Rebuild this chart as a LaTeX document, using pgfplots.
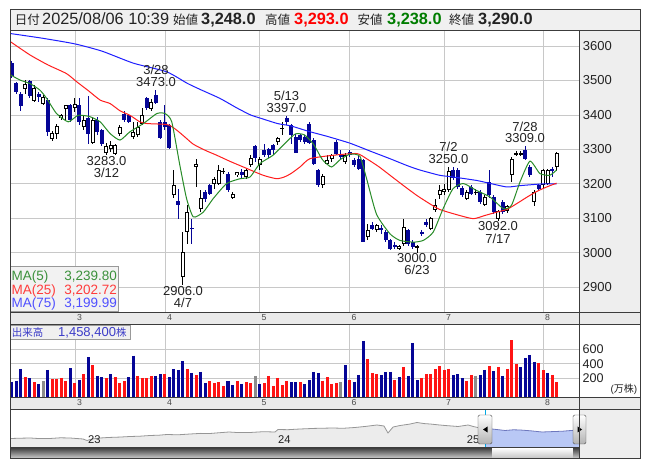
\documentclass[border=0pt]{standalone}
\usepackage{fontspec}
\setmainfont{Liberation Sans}
\newfontfamily\jp{Noto Sans CJK JP}
\usepackage{pgfplots}
\usepackage{pgfplotstable}
\pgfplotsset{compat=1.18}
\definecolor{hdrbg}{RGB}{240,240,240}
\definecolor{panelbg}{RGB}{238,238,238}
\definecolor{stripbg}{RGB}{234,234,234}
\definecolor{gridc}{RGB}{200,200,200}
\definecolor{downblue}{RGB}{5,5,150}
\definecolor{ma5}{RGB}{40,140,40}
\definecolor{ma25}{RGB}{255,30,30}
\definecolor{ma75}{RGB}{30,30,255}
\definecolor{volred}{RGB}{255,20,20}
\definecolor{volblue}{RGB}{5,5,150}
\definecolor{volgray}{RGB}{140,140,140}
\definecolor{framec}{RGB}{60,60,60}
\definecolor{navfill}{RGB}{236,236,236}
\definecolor{navline}{RGB}{150,150,150}
\definecolor{selfill}{RGB}{185,200,245}
\definecolor{selline}{RGB}{110,120,190}
\definecolor{cyanl}{RGB}{0,170,230}
\definecolor{txt}{RGB}{35,35,35}
\definecolor{lowgreen}{RGB}{0,125,0}
\definecolor{leg5}{RGB}{60,145,60}
\definecolor{leg25}{RGB}{255,60,60}
\definecolor{leg75}{RGB}{80,80,255}
\definecolor{volbox}{RGB}{60,60,200}
\newcommand{\fs}[1]{\fontsize{#1bp}{#1bp}\selectfont}
\pgfplotsset{
  bars/.style 2 args={draw=none, mark=none, forget plot, error bars/.cd, y dir=both, y explicit, error mark=none, error bar style={draw=#1, line width=#2}},
  vbars/.style={draw=none, mark=none, forget plot, error bars/.cd, y dir=minus, y explicit, error mark=none, error bar style={draw=#1, line width=3bp}},
}
\begin{document}
\pgfplotstableread{
i o h l c
3 3474 3501 3462 3489
5 3440 3486 3437 3479
7 3433 3457 3428 3453
9 3329 3352 3324 3349
10 3346 3375 3330 3368
11 3391 3404 3385 3399
12 3417 3430 3385 3428
14 3419 3448 3409 3433
16 3366 3400 3356 3385
18 3320 3395 3317 3385
21 3290 3318 3283 3310
22 3300 3325 3292 3312
23 3288 3316 3285 3312
24 3346 3370 3340 3365
27 3336 3380 3330 3351
28 3341 3380 3336 3365
29 3375 3419 3370 3399
31 3417 3445 3412 3438
36 3167 3240 3159 3196
38 2929 3060 2906 3002
39 3060 3138 3026 3118
41 3249 3273 3191 3258
42 3128 3181 3118 3159
45 3201 3220 3186 3213
46 3201 3254 3196 3240
47 3236 3245 3230 3238
49 3159 3176 3155 3172
50 3225 3235 3220 3233
52 3220 3245 3215 3240
53 3256 3283 3249 3274
55 3254 3278 3240 3273
59 3322 3336 3314 3332
60 3361 3380 3341 3363
69 3196 3228 3189 3223
70 3259 3283 3254 3269
71 3271 3288 3264 3283
74 3262 3290 3259 3283
79 3046 3085 3036 3065
81 3065 3085 3060 3082
86 3012 3022 3008 3019
87 3026 3099 3020 3075
90 3015 3022 3000 3019
93 3070 3104 3065 3101
94 3123 3157 3118 3139
95 3167 3196 3157 3181
96 3177 3201 3167 3186
97 3181 3250 3177 3236
101 3157 3181 3152 3176
103 3174 3185 3168 3177
105 3139 3167 3135 3162
108 3099 3123 3092 3120
110 3120 3140 3115 3136
111 3225 3278 3206 3273
112 3285 3295 3280 3290
113 3286 3296 3282 3290
116 3147 3181 3137 3176
118 3196 3244 3188 3239
119 3201 3244 3196 3239
121 3248 3293 3238 3290
}\candup
\pgfplotstableread{
i o h l c
0 3552 3556 3508 3513
1 3492 3496 3462 3467
2 3462 3466 3411 3426
4 3498 3502 3448 3456
6 3462 3467 3438 3453
8 3443 3448 3340 3351
13 3428 3431 3380 3385
15 3428 3450 3370 3380
17 3390 3456 3317 3346
19 3385 3395 3341 3351
20 3356 3360 3310 3317
25 3404 3410 3380 3385
26 3399 3404 3376 3380
30 3450 3453 3414 3419
32 3457 3473 3432 3436
33 3380 3386 3330 3334
34 3380 3428 3356 3364
35 3370 3374 3300 3305
37 3149 3186 3097 3140
40 3072 3099 3026 3070
43 3176 3181 3147 3157
44 3196 3201 3167 3172
48 3230 3235 3176 3181
51 3233 3243 3215 3225
54 3310 3314 3264 3274
56 3298 3317 3279 3283
57 3300 3305 3275 3283
58 3312 3317 3283 3298
61 3392 3397 3372 3380
62 3370 3375 3316 3341
63 3336 3346 3290 3291
64 3341 3346 3322 3327
65 3336 3341 3316 3322
66 3375 3380 3315 3320
67 3327 3332 3255 3259
68 3239 3243 3191 3196
72 3322 3327 3285 3288
73 3288 3298 3273 3278
75 3293 3298 3278 3283
76 3269 3275 3250 3254
77 3273 3280 3240 3244
78 3269 3272 3031 3031
80 3082 3090 3065 3070
82 3071 3080 3055 3070
83 3060 3065 3031 3036
84 3036 3040 3008 3012
85 3022 3030 3012 3020
88 3065 3070 3020 3026
89 3031 3036 3012 3017
91 3060 3065 3050 3055
92 3089 3099 3075 3080
98 3240 3248 3210 3217
99 3240 3245 3186 3191
100 3188 3193 3162 3167
102 3191 3196 3167 3172
104 3176 3181 3142 3147
106 3205 3239 3160 3167
107 3162 3167 3113 3118
109 3147 3152 3113 3118
114 3298 3309 3270 3273
115 3249 3254 3220 3225
117 3196 3200 3182 3186
120 3244 3248 3220 3239
}\canddn
\pgfplotstableread{
i v
3 214
5 150
9 191
10 191
11 205
12 164
14 137
16 259
18 382
21 205
23 218
24 137
25 164
28 232
29 205
30 200
31 232
34 259
39 328
41 246
44 164
45 137
46 150
47 96
50 164
52 150
53 137
56 137
57 232
58 96
59 205
60 109
61 164
64 150
69 168
70 214
71 123
72 137
75 177
79 464
80 273
81 259
85 177
87 355
91 205
92 259
93 259
94 328
95 369
96 314
97 328
101 164
102 246
106 369
108 355
110 328
111 723
112 396
117 410
118 314
120 246
121 146
}\volr
\pgfplotstableread{
i v
0 155
1 168
2 328
4 200
6 123
8 314
13 341
15 177
17 491
19 232
20 218
22 259
26 218
27 510
32 232
33 259
35 218
36 328
37 314
38 437
40 273
42 287
43 137
48 164
49 109
51 123
55 123
62 150
63 150
65 123
66 177
67 287
68 273
74 382
76 155
77 246
78 710
82 246
83 287
84 287
86 218
88 232
89 683
90 177
98 246
99 259
100 200
104 246
105 314
107 300
109 232
113 355
114 478
115 519
116 423
119 273
}\volb
\pgfplotstableread{
i v
7 164
54 232
73 150
103 232
}\volg
\begin{tikzpicture}[x=1bp,y=1bp]
\useasboundingbox (0,0) rectangle (653,470);
\fill[white] (0,0) rectangle (653,470);
\fill[hdrbg] (10,439) rectangle (640,460);
\fill[panelbg] (579,157.3) rectangle (640,439);
\fill[stripbg] (10,145) rectangle (640,157.3);
\fill[stripbg] (10,60) rectangle (640,72.7);
\fill[panelbg] (579,11) rectangle (640,60);

% header
\node[anchor=base west, inner sep=0, font=\jp\fs{12.5}, text=txt] at (14.6,445) {日付};
\node[anchor=base west, inner sep=0, font=\fs{16.3}, text=txt] at (42,445) {2025/08/06 10:39};
\node[anchor=base west, inner sep=0, font=\jp\fs{12.5}, text=txt] at (173,445) {始値};
\node[anchor=base west, inner sep=0, font=\bfseries\fs{16.3}, text=txt] at (201,445) {3,248.0};
\node[anchor=base west, inner sep=0, font=\jp\fs{12.5}, text=txt] at (265,445) {高値};
\node[anchor=base west, inner sep=0, font=\bfseries\fs{16.3}, text=red] at (294,445) {3,293.0};
\node[anchor=base west, inner sep=0, font=\jp\fs{12.5}, text=txt] at (357.5,445) {安値};
\node[anchor=base west, inner sep=0, font=\bfseries\fs{16.3}, text=lowgreen] at (387,445) {3,238.0};
\node[anchor=base west, inner sep=0, font=\jp\fs{12.5}, text=txt] at (449,445) {終値};
\node[anchor=base west, inner sep=0, font=\bfseries\fs{16.3}, text=txt] at (478,445) {3,290.0};

% price axis
\begin{axis}[at={(11bp,157.3bp)}, anchor=south west, scale only axis,
  width=568bp, height=281.7bp,
  xmin=-0.22, xmax=126, ymin=2826.3, ymax=3643.5,
  axis line style={draw=none}, major tick length=0pt,
  xtick={14,34,55,75,96,118}, xticklabels={3,4,5,6,7,8},
  ytick={2900,3000,3100,3200,3300,3400,3500,3600},
  yticklabel pos=right,
  grid=major, grid style={gridc, line width=0.8bp},
  /pgf/number format/assume math mode=true, /pgf/number format/1000 sep={},
  xticklabel style={anchor=north west, inner sep=0pt, xshift=2bp, yshift=-1.5bp, font=\fs{8.7}, text=black!70},
  yticklabel style={anchor=west, inner sep=0pt, xshift=3.7bp, font=\fs{13}, text=txt},
]
\addplot[bars={black}{1bp}] table[x=i, y expr={(\thisrow{h}+\thisrow{l})/2}, y error expr={(\thisrow{h}-\thisrow{l})/2}] {\candup};
\addplot[bars={downblue}{1bp}] table[x=i, y expr={(\thisrow{h}+\thisrow{l})/2}, y error expr={(\thisrow{h}-\thisrow{l})/2}] {\canddn};
\addplot[bars={black}{4bp}] table[x=i, y expr={(\thisrow{o}+\thisrow{c})/2}, y error expr={max(abs(\thisrow{c}-\thisrow{o})/2,1.5)}] {\candup};
\addplot[bars={white}{2bp}] table[x=i, y expr={(\thisrow{o}+\thisrow{c})/2}, y error expr={max(abs(\thisrow{c}-\thisrow{o})/2-2.9,0)}] {\candup};
\addplot[bars={downblue}{4bp}] table[x=i, y expr={(\thisrow{o}+\thisrow{c})/2}, y error expr={max(abs(\thisrow{c}-\thisrow{o})/2,1.5)}] {\canddn};
% MA75
\addplot[ma75, line width=1bp, smooth, tension=0.35, mark=none] coordinates {
(-0.3,3636) (7,3622) (14,3606) (20,3585) (27,3550) (34.4,3525) (38.9,3492) (41.8,3474) (46.2,3448) (50,3420) (53,3400) (55.1,3391) (59,3375) (62,3368) (66,3352) (70,3338) (75.1,3318) (80,3293) (84,3273) (88,3252) (90.7,3240) (95,3225) (98,3220) (103.2,3210) (106,3202) (110,3191) (113,3195) (118,3200) (121,3200)};
% MA25
\addplot[ma25, line width=1bp, smooth, tension=0.35, mark=none] coordinates {
(-0.3,3612) (4,3574) (8,3545) (12.1,3520) (14.4,3496) (17,3470) (19.6,3443) (21.8,3433) (24,3412) (26.2,3399) (28.4,3380) (30,3375) (33.6,3373) (35,3370) (36.6,3356) (38.5,3335) (40.3,3315) (43,3297) (45.5,3283) (48.5,3265) (51.4,3249) (55.8,3225) (58.8,3215) (60.5,3220) (62,3230) (64,3249) (66.2,3273) (71.4,3283) (76.6,3288) (78.8,3273) (81.5,3250) (84,3225) (87,3195) (89.9,3167) (92.5,3145) (95,3126) (99,3110) (102.5,3099) (105,3108) (107.7,3118) (110,3126) (112.2,3143) (114.5,3162) (116.6,3178) (119,3192) (121,3202)};
% MA5
\addplot[ma5, line width=1bp, smooth, tension=0.35, mark=none] coordinates {
(-0.3,3516) (1.8,3501) (4,3491) (6.2,3472) (7.7,3448) (9.9,3404) (12.5,3380) (14.7,3399) (17.3,3395) (19.6,3380) (21.8,3346) (24,3327) (26.2,3351) (29.2,3375) (32.2,3404) (34,3404) (35.5,3380) (37.3,3254) (38.8,3157) (40.3,3104) (42.5,3118) (44.7,3157) (47.7,3201) (50.7,3215) (52.9,3220) (55.1,3259) (58,3283) (61,3322) (63,3345) (65,3342) (67,3315) (69,3270) (71,3249) (72.9,3270) (75.1,3286) (77.3,3280) (78.8,3215) (81,3112) (84,3055) (86.2,3036) (89.2,3031) (91.4,3036) (93.6,3060) (95.8,3128) (98,3186) (100.3,3201) (103.2,3181) (106.2,3162) (109.2,3128) (111,3138) (112.9,3206) (115.1,3266) (117.3,3230) (119.5,3225) (121,3240)};
% peak labels
\node[anchor=base, inner sep=0, font=\fs{13}, text=txt, yshift=3.4bp] at (axis cs:32,3473) {3473.0};
\node[anchor=base, inner sep=0, font=\fs{13}, text=txt, yshift=15bp] at (axis cs:32,3473) {3/28};
\node[anchor=base, inner sep=0, font=\fs{13}, text=txt, yshift=3.4bp] at (axis cs:61,3397) {3397.0};
\node[anchor=base, inner sep=0, font=\fs{13}, text=txt, yshift=15bp] at (axis cs:61,3397) {5/13};
\node[anchor=base, inner sep=0, font=\fs{13}, text=txt, yshift=3.4bp] at (axis cs:97,3250) {3250.0};
\node[anchor=base, inner sep=0, font=\fs{13}, text=txt, yshift=15bp] at (axis cs:97,3250) {7/2};
\node[anchor=base, inner sep=0, font=\fs{13}, text=txt, yshift=3.4bp] at (axis cs:114,3309) {3309.0};
\node[anchor=base, inner sep=0, font=\fs{13}, text=txt, yshift=15bp] at (axis cs:114,3309) {7/28};
\node[anchor=base, inner sep=0, font=\fs{13}, text=txt, yshift=-9.8bp] at (axis cs:21,3283) {3283.0};
\node[anchor=base, inner sep=0, font=\fs{13}, text=txt, yshift=-22bp] at (axis cs:21,3283) {3/12};
\node[anchor=base, inner sep=0, font=\fs{13}, text=txt, yshift=-9.8bp] at (axis cs:38,2906) {2906.0};
\node[anchor=base, inner sep=0, font=\fs{13}, text=txt, yshift=-22bp] at (axis cs:38,2906) {4/7};
\node[anchor=base, inner sep=0, font=\fs{13}, text=txt, yshift=-9.8bp] at (axis cs:90,3000) {3000.0};
\node[anchor=base, inner sep=0, font=\fs{13}, text=txt, yshift=-22bp] at (axis cs:90,3000) {6/23};
\node[anchor=base, inner sep=0, font=\fs{13}, text=txt, yshift=-9.8bp] at (axis cs:108,3092) {3092.0};
\node[anchor=base, inner sep=0, font=\fs{13}, text=txt, yshift=-22bp] at (axis cs:108,3092) {7/17};
\end{axis}

% volume axis
\begin{axis}[at={(11bp,72.7bp)}, anchor=south west, scale only axis,
  width=568bp, height=72.3bp,
  xmin=-0.22, xmax=126, ymin=-58.7, ymax=928,
  axis line style={draw=none}, major tick length=0pt,
  xtick={14,34,55,75,96,118}, xticklabels={3,4,5,6,7,8},
  ytick={200,400,600},
  yticklabel pos=right,
  grid=major, grid style={gridc, line width=0.8bp},
  /pgf/number format/assume math mode=true, /pgf/number format/1000 sep={},
  xticklabel style={anchor=north west, inner sep=0pt, xshift=2bp, yshift=-2bp, font=\fs{8.7}, text=black!70},
  yticklabel style={anchor=west, inner sep=0pt, xshift=3.3bp, font=\fs{12.6}, text=txt},
]
\addplot[vbars=volred] table[x=i, y=v, y error minus expr={\thisrow{v}+100}] {\volr};
\addplot[vbars=volblue] table[x=i, y=v, y error minus expr={\thisrow{v}+100}] {\volb};
\addplot[vbars=volgray] table[x=i, y=v, y error minus expr={\thisrow{v}+100}] {\volg};
\end{axis}
\node[anchor=base east, inner sep=0, font=\fs{10}, text=txt] at (637.5,77) {(\jp 万株\rm)};

% navigator
\begin{axis}[at={(11bp,22bp)}, anchor=south west, scale only axis,
  width=568bp, height=38bp,
  xmin=2022.599, xmax=2025.596, ymin=0, ymax=38,
  axis line style={draw=none}, xtick=\empty, ytick=\empty,
]
\addplot[fill=navfill, draw=none, mark=none] coordinates {
(2022.599,9.5) (2022.65,9.8) (2022.70,10) (2022.75,9.4) (2022.805,9.5) (2022.86,10.2) (2022.91,10) (2022.979,9) (2023.0,7.5) (2023.026,9) (2023.07,10) (2023.11,10.5) (2023.17,10.9) (2023.227,11.5) (2023.28,11.8) (2023.332,12.5) (2023.38,12.8) (2023.422,13.5) (2023.48,13.2) (2023.544,14) (2023.6,14.6) (2023.649,14.5) (2023.7,15.3) (2023.749,16) (2023.8,15.4) (2023.86,15.5) (2023.93,16.3) (2023.992,16) (2024.008,18.5) (2024.06,18.3) (2024.124,19) (2024.2,19.6) (2024.298,20) (2024.35,19.7) (2024.414,20.5) (2024.47,21.6) (2024.53,23) (2024.567,22) (2024.588,15) (2024.615,21) (2024.652,22.5) (2024.7,23.8) (2024.741,25.5) (2024.78,24.4) (2024.81,24) (2024.85,23.2) (2024.889,22.5) (2024.958,21.5) (2025.011,23) (2025.04,21.4) (2025.074,20) (2025.1,19.6)} \closedcycle;
\addplot[navline, line width=0.8bp, mark=none] coordinates {
(2022.599,9.5) (2022.65,9.8) (2022.70,10) (2022.75,9.4) (2022.805,9.5) (2022.86,10.2) (2022.91,10) (2022.979,9) (2023.0,7.5) (2023.026,9) (2023.07,10) (2023.11,10.5) (2023.17,10.9) (2023.227,11.5) (2023.28,11.8) (2023.332,12.5) (2023.38,12.8) (2023.422,13.5) (2023.48,13.2) (2023.544,14) (2023.6,14.6) (2023.649,14.5) (2023.7,15.3) (2023.749,16) (2023.8,15.4) (2023.86,15.5) (2023.93,16.3) (2023.992,16) (2024.008,18.5) (2024.06,18.3) (2024.124,19) (2024.2,19.6) (2024.298,20) (2024.35,19.7) (2024.414,20.5) (2024.47,21.6) (2024.53,23) (2024.567,22) (2024.588,15) (2024.615,21) (2024.652,22.5) (2024.7,23.8) (2024.741,25.5) (2024.78,24.4) (2024.81,24) (2024.85,23.2) (2024.889,22.5) (2024.958,21.5) (2025.011,23) (2025.04,21.4) (2025.074,20) (2025.1,19.6)};
\addplot[fill=selfill, draw=none, mark=none] coordinates {
(2025.1,19.6) (2025.137,19) (2025.17,18.3) (2025.206,17.5) (2025.25,18.2) (2025.285,18) (2025.34,17.2) (2025.401,16) (2025.47,16.5) (2025.51,16.8) (2025.554,17.5) (2025.596,18)} \closedcycle;
\addplot[selline, line width=0.8bp, mark=none] coordinates {
(2025.1,19.6) (2025.137,19) (2025.17,18.3) (2025.206,17.5) (2025.25,18.2) (2025.285,18) (2025.34,17.2) (2025.401,16) (2025.47,16.5) (2025.51,16.8) (2025.554,17.5) (2025.596,18)};
\node[anchor=base west, inner sep=0, font=\fs{11.2}, text=txt] at (axis cs:2023.005,4) {23};
\node[anchor=base west, inner sep=0, font=\fs{11.2}, text=txt] at (axis cs:2024.008,4) {24};
\node[anchor=base west, inner sep=0, font=\fs{11.2}, text=txt] at (axis cs:2025.003,4) {25};
\end{axis}

% MA legend
\draw[black!40, fill=white!95!black] (10,159) rectangle (118,203.3);
\node[anchor=base west, inner sep=0, font=\fs{13.5}, text=leg5] at (11.5,189) {MA(5)};
\node[anchor=base east, inner sep=0, font=\fs{13.5}, text=leg5] at (117,189) {3,239.80};
\node[anchor=base west, inner sep=0, font=\fs{13.5}, text=leg25] at (11.5,175.5) {MA(25)};
\node[anchor=base east, inner sep=0, font=\fs{13.5}, text=leg25] at (117,175.5) {3,202.72};
\node[anchor=base west, inner sep=0, font=\fs{13.5}, text=leg75] at (11.5,162) {MA(75)};
\node[anchor=base east, inner sep=0, font=\fs{13.5}, text=leg75] at (117,162) {3,199.99};

% volume label box
\draw[black!40, fill=white!94!black] (10,131) rectangle (130,145);
\node[anchor=base west, inner sep=0, font=\jp\fs{10.5}, text=volbox] at (11.7,133.5) {出来高};
\node[anchor=base west, inner sep=0, font=\fs{13}, text=volbox] at (58,133.5) {1,458,400{\jp\fs{10.5}株}};

% navigator decorations
\shade[top color=black!75, bottom color=black!15] (10,11) rectangle (492,22);
\shade[top color=white, bottom color=black!25] (492,11) rectangle (573,22);
\shade[top color=black!75, bottom color=black!15] (573,11) rectangle (579,22);
\draw[cyanl, line width=1bp] (485,22) -- (485,60);
\draw[cyanl, line width=1bp] (579,22) -- (579,60);
\draw[black!70, rounded corners=1.5bp, top color=white, bottom color=black!30] (478,26) rectangle (492,55);
\fill[black] (483,40.5) -- (487.5,43.5) -- (487.5,37.5) -- cycle;
\draw[black!70, rounded corners=1.5bp, top color=white, bottom color=black!30] (573,26) rectangle (586,55);
\fill[black] (582,40.5) -- (577.5,43.5) -- (577.5,37.5) -- cycle;

% frames
\draw[framec, line width=1bp] (10,11) rectangle (640,460);
\draw[framec, line width=1bp] (10,439) -- (640,439);
\draw[framec, line width=1bp] (10,157.3) -- (640,157.3);
\draw[framec, line width=1bp] (10,145) -- (640,145);
\draw[framec, line width=1bp] (10,72.7) -- (640,72.7);
\draw[framec, line width=1bp] (10,60) -- (640,60);
\draw[framec, line width=1bp] (10,22) -- (579,22);
\draw[framec, line width=1bp] (579,11) -- (579,439);
\end{tikzpicture}
\end{document}
